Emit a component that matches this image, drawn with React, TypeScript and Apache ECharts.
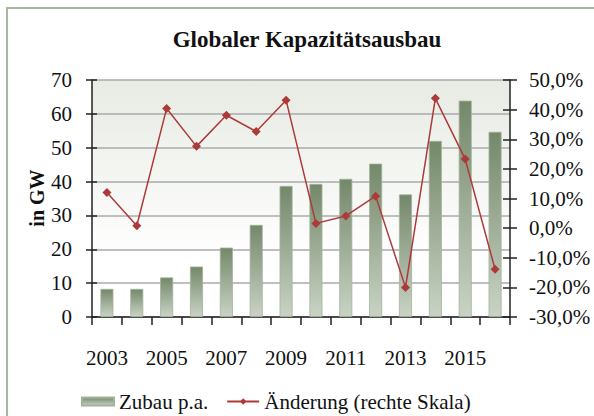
import React, { useEffect, useRef } from "react";
import * as echarts from "echarts";

const years = ["2003","2004","2005","2006","2007","2008","2009","2010","2011","2012","2013","2014","2015","2016"];
const zubau = [8.3, 8.3, 11.7, 14.9, 20.5, 27.2, 38.7, 39.3, 40.8, 45.3, 36.2, 52.0, 63.9, 54.7];
const aenderung = [12.0, 0.8, 40.4, 27.6, 38.1, 32.6, 43.2, 1.6, 4.1, 10.8, -20.0, 43.8, 23.3, -13.9];
const leftTicks = { min: 0, max: 70, interval: 10 };
const rightTicks = { min: -30, max: 50, interval: 10 };

const FONT = "Liberation Serif";

export default function App() {
  const ref = useRef<HTMLDivElement>(null);
  useEffect(() => {
    if (!ref.current) return;
    const chart = echarts.init(ref.current, null, { renderer: "svg" });
    const barGrad = new echarts.graphic.LinearGradient(0, 0, 0, 1, [
      { offset: 0, color: "#74886a" },
      { offset: 1, color: "#c9d3c5" },
    ]);
    const bgGrad = new echarts.graphic.LinearGradient(0, 0, 0, 1, [
      { offset: 0, color: "#e7ebe3" },
      { offset: 0.75, color: "#ffffff" },
      { offset: 1, color: "#ffffff" },
    ]);
    const pctFmt = (v: number) => v.toFixed(1).replace(".", ",") + "%";
    const tickStyle = { color: "#222", width: 1.5 };
    chart.setOption({
      animation: false,
      backgroundColor: "#ffffff",
      textStyle: { fontFamily: FONT },
      title: {
        text: "Globaler Kapazitätsausbau",
        left: 302,
        top: 23,
        textAlign: "center",
        textStyle: { fontFamily: FONT, fontWeight: "bold", fontSize: 23, color: "#111" },
      },
      graphic: [
        {
          type: "rect",
          shape: { x: 7, y: 8, width: 620, height: 440 },
          style: { fill: "none", stroke: "#a9b6a1", lineWidth: 2 },
          z: 100,
        },
        {
          type: "text",
          x: 37,
          y: 198,
          rotation: Math.PI / 2,
          style: {
            text: "in GW",
            fontFamily: FONT,
            fontWeight: "bold",
            fontSize: 20,
            fill: "#111",
            align: "center",
            verticalAlign: "middle",
          },
        },
      ],
      legend: {
        left: 76,
        top: 386,
        itemWidth: 32,
        itemHeight: 8,
        itemGap: 18,
        textStyle: { fontFamily: FONT, fontSize: 21, color: "#111" },
        data: [
          { name: "Zubau p.a.", icon: "rect" },
          { name: "Änderung (rechte Skala)" },
        ],
      },
      grid: {
        left: 92,
        right: 84,
        top: 80,
        bottom: 99,
        show: true,
        backgroundColor: bgGrad,
        borderWidth: 0,
      },
      xAxis: {
        type: "category",
        data: years,
        boundaryGap: true,
        axisLine: { lineStyle: { color: "#222", width: 1.5 } },
        axisTick: { show: true, interval: 0, length: 8, lineStyle: tickStyle },
        axisLabel: { interval: 1, margin: 30, fontFamily: FONT, fontSize: 21, color: "#111" },
      },
      yAxis: [
        {
          type: "value",
          ...leftTicks,
          position: "left",
          axisLine: { show: true, lineStyle: { color: "#222", width: 1.5 } },
          axisTick: { show: true, length: 6, lineStyle: tickStyle },
          splitLine: { show: true, lineStyle: { color: "#aaaaaa", width: 1.5 } },
          axisLabel: { margin: 20, fontFamily: FONT, fontSize: 21, color: "#111" },
        },
        {
          type: "value",
          ...rightTicks,
          position: "right",
          axisLine: { show: true, lineStyle: { color: "#222", width: 1.5 } },
          axisTick: { show: true, length: 7, lineStyle: tickStyle },
          splitLine: { show: false },
          axisLabel: { margin: 19, fontFamily: FONT, fontSize: 21, color: "#111", formatter: pctFmt },
        },
        {
          type: "value",
          ...leftTicks,
          position: "left",
          axisLine: { show: false },
          axisTick: { show: true, inside: true, length: 5, lineStyle: tickStyle },
          splitLine: { show: false },
          axisLabel: { show: false },
        },
        {
          type: "value",
          ...rightTicks,
          position: "right",
          axisLine: { show: false },
          axisTick: { show: true, inside: true, length: 7, lineStyle: tickStyle },
          splitLine: { show: false },
          axisLabel: { show: false },
        },
      ],
      series: [
        {
          name: "Zubau p.a.",
          type: "bar",
          yAxisIndex: 0,
          data: zubau,
          barWidth: 13,
          itemStyle: { color: barGrad, borderColor: "#a3b29b", borderWidth: 0.8 },
        },
        {
          name: "Änderung (rechte Skala)",
          type: "line",
          yAxisIndex: 1,
          data: aenderung,
          symbol: "diamond",
          symbolSize: 9,
          lineStyle: { color: "#ad3a3a", width: 1.5 },
          itemStyle: { color: "#ad3a3a" },
          z: 5,
        },
      ],
    });
    return () => chart.dispose();
  }, []);
  return <div ref={ref} style={{ width: 594, height: 416, position: "absolute", left: 0, top: 0 }} />;
}
